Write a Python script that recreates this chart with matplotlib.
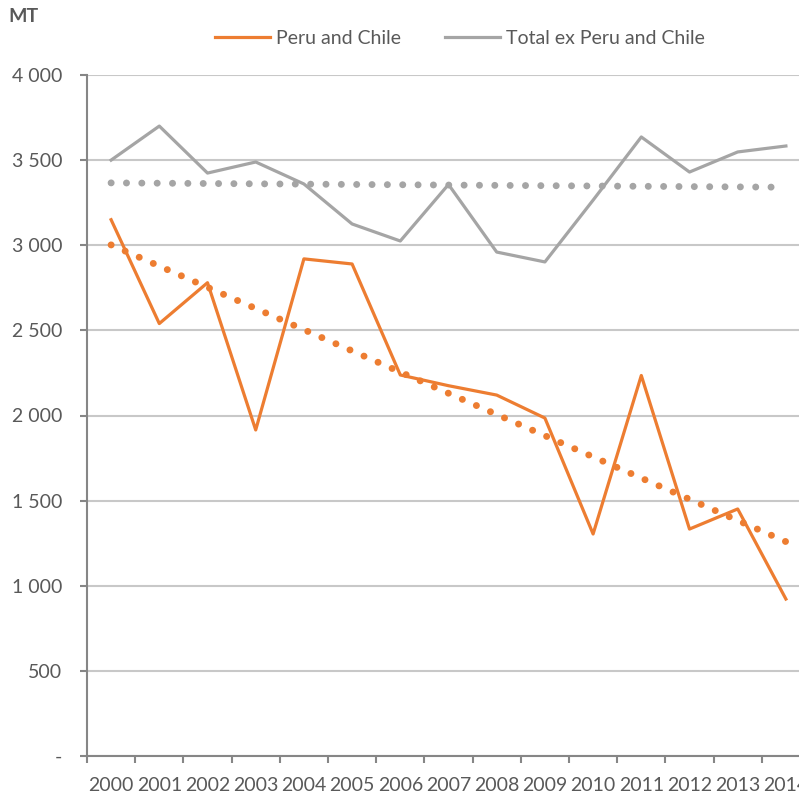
import matplotlib.pyplot as plt
import numpy as np

plt.rcParams['font.family'] = ['Lato', 'DejaVu Sans']

years = [str(y) for y in range(2000, 2015)]
peru_chile = [3150, 2540, 2780, 1915, 2920, 2890, 2238, 2175, 2120, 1985,
              1304, 2235, 1333, 1451, 922]
total_ex = [3500, 3700, 3424, 3489, 3360, 3125, 3025, 3357, 2960, 2902,
            3265, 3636, 3430, 3548, 3583]
yticks = [0, 500, 1000, 1500, 2000, 2500, 3000, 3500, 4000]
ytick_labels = ['-', '500', '1 000', '1 500', '2 000', '2 500', '3 000', '3 500', '4 000']

orange = '#ED7D31'
grey = '#A5A5A5'
txt = '#595959'

fig = plt.figure(figsize=(7.99, 7.94), dpi=100)
ax = fig.add_axes([87/799, 1 - 756/794, 723/799, 681/794])

x = np.arange(len(years))

# linear trendlines like excel
for vals, col in [(peru_chile, orange), (total_ex, grey)]:
    k, b = np.polyfit(x, vals, 1)
    ax.plot(x, k*x + b, color=col, lw=5, linestyle=(0, (0.01, 2.2)),
            dash_capstyle='round', zorder=3)

ax.plot(x, peru_chile, color=orange, lw=2.3, label='Peru and Chile', zorder=4)
ax.plot(x, total_ex, color=grey, lw=2.3, label='Total ex Peru and Chile', zorder=4)

ax.set_xlim(-0.5, len(years) - 0.5)
ax.set_ylim(0, 4000)

ax.set_xticks(np.arange(len(years) + 1) - 0.5)
ax.set_xticklabels([])
ax.set_xticks(x, minor=True)
ax.set_xticklabels(years, minor=True)
ax.tick_params(axis='x', which='major', length=5, width=1.5, color='#868686', direction='out')
ax.tick_params(axis='x', which='minor', length=0, pad=15, labelsize=14, labelcolor=txt)

ax.set_yticks(yticks)
ax.set_yticklabels(ytick_labels)
ax.tick_params(axis='y', length=5, width=1.5, color='#868686', pad=13, labelsize=14, labelcolor=txt)

ax.grid(axis='y', color='#C8C8C8', lw=1.5)
ax.set_axisbelow(True)
for s in ['top', 'right']:
    ax.spines[s].set_visible(False)
for s in ['left', 'bottom']:
    ax.spines[s].set_color('#868686')
    ax.spines[s].set_linewidth(1.5)

fig.text(8/799, 1 - 16/794, 'MT', fontsize=14, fontweight='bold', color=txt, va='center')

fig.legend(loc='center', bbox_to_anchor=(460/799, 1 - 38/794), ncol=2, frameon=False,
           fontsize=14, labelcolor=txt, handlelength=2.8, handletextpad=0.3,
           columnspacing=2.3)

fig.savefig('out.png', dpi=100)
